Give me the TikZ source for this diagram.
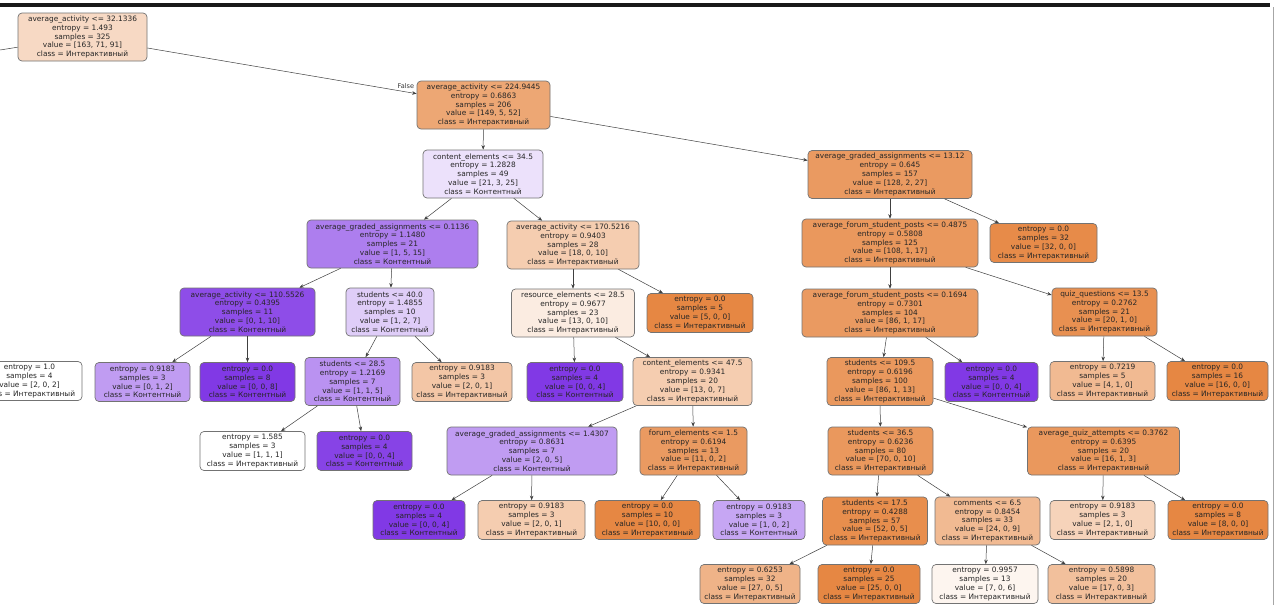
\documentclass[tikz,border=0pt]{standalone}
\usepackage{fontspec}
\usetikzlibrary{arrows.meta}
\newfontfamily\tnfont{DejaVu Sans}
\definecolor{O}{HTML}{E58139}
\definecolor{P}{HTML}{8139E5}
\tikzset{
  tn/.style={draw=black!55, line width=0.7pt, rounded corners=4pt, align=center,
    inner sep=1pt, text=black!85, font=\tnfont\fontsize{7.4}{8.8}\selectfont},
  in5/.style={tn, minimum height=48pt},
  lf/.style={tn, minimum height=39pt},
  ed/.style={draw=black!75, line width=0.5pt, -{Stealth[length=4.5pt,width=3.5pt]}},
  lab/.style={font=\tnfont\fontsize{6.5}{7}\selectfont, text=black!80, inner sep=0pt}
}
\begin{document}
\begin{tikzpicture}[x=1pt,y=-1pt]
\useasboundingbox (0,0) rectangle (1282,605);
\fill[white] (0,0) rectangle (1282,605);
\fill[black!90] (0,3) rectangle (1270,7);
\draw[black!35, line width=0.8pt] (1273,7) -- (1273,605);

% level 0-2
\node[in5, fill=O!30!white, minimum width=129pt] (r) at (82.5,37) {average\_activity <= 32.1336\\entropy = 1.493\\samples = 325\\value = [163, 71, 91]\\class = Интерактивный};
\node[in5, fill=O!70!white, minimum width=133pt] (n1) at (483.5,105) {average\_activity <= 224.9445\\entropy = 0.6863\\samples = 206\\value = [149, 5, 52]\\class = Интерактивный};
\node[in5, fill=P!15!white, minimum width=120pt] (n2) at (483,174) {content\_elements <= 34.5\\entropy = 1.2828\\samples = 49\\value = [21, 3, 25]\\class = Контентный};
\node[in5, fill=O!80!white, minimum width=164pt] (n3) at (890,174.5) {average\_graded\_assignments <= 13.12\\entropy = 0.645\\samples = 157\\value = [128, 2, 27]\\class = Интерактивный};

% level 3
\node[in5, fill=P!65!white, minimum width=171pt] (n4) at (392.5,244) {average\_graded\_assignments <= 0.1136\\entropy = 1.1480\\samples = 21\\value = [1, 5, 15]\\class = Контентный};
\node[in5, fill=O!40!white, minimum width=132pt] (n5) at (573,245) {average\_activity <= 170.5216\\entropy = 0.9403\\samples = 28\\value = [18, 0, 10]\\class = Интерактивный};
\node[in5, fill=O!82!white, minimum width=176pt] (n6) at (890,243) {average\_forum\_student\_posts <= 0.4875\\entropy = 0.5808\\samples = 125\\value = [108, 1, 17]\\class = Интерактивный};
\node[lf, fill=O!92!white, minimum width=107pt] (n7) at (1043.5,243) {entropy = 0.0\\samples = 32\\value = [32, 0, 0]\\class = Интерактивный};

% level 4
\node[in5, fill=P!90!white, minimum width=135pt] (n8) at (247.5,312) {average\_activity <= 110.5526\\entropy = 0.4395\\samples = 11\\value = [0, 1, 10]\\class = Контентный};
\node[in5, fill=P!25!white, minimum width=88pt] (n9) at (390,312) {students <= 40.0\\entropy = 1.4855\\samples = 10\\value = [1, 2, 7]\\class = Контентный};
\node[in5, fill=O!15!white, minimum width=123pt] (n12) at (573,313) {resource\_elements <= 28.5\\entropy = 0.9677\\samples = 23\\value = [13, 0, 10]\\class = Интерактивный};
\node[lf, fill=O!95!white, minimum width=106pt] (n13) at (700,313) {entropy = 0.0\\samples = 5\\value = [5, 0, 0]\\class = Интерактивный};
\node[in5, fill=O!80!white, minimum width=176pt] (n10) at (890,313) {average\_forum\_student\_posts <= 0.1694\\entropy = 0.7301\\samples = 104\\value = [86, 1, 17]\\class = Интерактивный};
\node[in5, fill=O!88!white, minimum width=105pt] (n11) at (1104.5,312) {quiz\_questions <= 13.5\\entropy = 0.2762\\samples = 21\\value = [20, 1, 0]\\class = Интерактивный};

% level 5
\node[lf, fill=white, minimum width=105pt] (fl) at (29.5,381) {entropy = 1.0\\samples = 4\\value = [2, 0, 2]\\class = Интерактивный};
\node[lf, fill=P!50!white, minimum width=95pt] (a1) at (142.5,382) {entropy = 0.9183\\samples = 3\\value = [0, 1, 2]\\class = Контентный};
\node[lf, fill=P!100!white, minimum width=95pt] (a2) at (247.5,382) {entropy = 0.0\\samples = 8\\value = [0, 0, 8]\\class = Контентный};
\node[in5, fill=P!55!white, minimum width=95pt] (n14) at (352.5,381.5) {students <= 28.5\\entropy = 1.2169\\samples = 7\\value = [1, 1, 5]\\class = Контентный};
\node[lf, fill=O!45!white, minimum width=100pt] (n15) at (462,382) {entropy = 0.9183\\samples = 3\\value = [2, 0, 1]\\class = Интерактивный};
\node[lf, fill=P!100!white, minimum width=96pt] (n16) at (575,382) {entropy = 0.0\\samples = 4\\value = [0, 0, 4]\\class = Контентный};
\node[in5, fill=O!40!white, minimum width=119pt] (n17) at (692.5,381.5) {content\_elements <= 47.5\\entropy = 0.9341\\samples = 20\\value = [13, 0, 7]\\class = Интерактивный};
\node[in5, fill=O!82!white, minimum width=106pt] (n20) at (880,381.5) {students <= 109.5\\entropy = 0.6196\\samples = 100\\value = [86, 1, 13]\\class = Интерактивный};
\node[lf, fill=P!100!white, minimum width=93pt] (n21) at (991.5,382) {entropy = 0.0\\samples = 4\\value = [0, 0, 4]\\class = Контентный};
\node[lf, fill=O!55!white, minimum width=105pt] (b1) at (1102.5,381) {entropy = 0.7219\\samples = 5\\value = [4, 1, 0]\\class = Интерактивный};
\node[lf, fill=O!95!white, minimum width=101pt] (b2) at (1217.5,381) {entropy = 0.0\\samples = 16\\value = [16, 0, 0]\\class = Интерактивный};

% level 6
\node[lf, fill=white, minimum width=105pt] (c1) at (252.5,451) {entropy = 1.585\\samples = 3\\value = [1, 1, 1]\\class = Интерактивный};
\node[lf, fill=P!95!white, minimum width=95pt] (c2) at (364.5,451) {entropy = 0.0\\samples = 4\\value = [0, 0, 4]\\class = Контентный};
\node[in5, fill=P!50!white, minimum width=170pt] (n18) at (532,451) {average\_graded\_assignments <= 1.4307\\entropy = 0.8631\\samples = 7\\value = [2, 0, 5]\\class = Контентный};
\node[in5, fill=O!80!white, minimum width=107pt] (n19) at (693.5,451) {forum\_elements <= 1.5\\entropy = 0.6194\\samples = 13\\value = [11, 0, 2]\\class = Интерактивный};
\node[in5, fill=O!82!white, minimum width=105pt] (n22) at (880.5,451) {students <= 36.5\\entropy = 0.6236\\samples = 80\\value = [70, 0, 10]\\class = Интерактивный};
\node[in5, fill=O!82!white, minimum width=152pt] (n23) at (1103.5,451) {average\_quiz\_attempts <= 0.3762\\entropy = 0.6395\\samples = 20\\value = [16, 1, 3]\\class = Интерактивный};

% level 7
\node[lf, fill=P!100!white, minimum width=92pt] (d1) at (419,520) {entropy = 0.0\\samples = 4\\value = [0, 0, 4]\\class = Контентный};
\node[lf, fill=O!40!white, minimum width=107pt] (d2) at (531.5,520) {entropy = 0.9183\\samples = 3\\value = [2, 0, 1]\\class = Интерактивный};
\node[lf, fill=O!95!white, minimum width=105pt] (d3) at (647.5,520) {entropy = 0.0\\samples = 10\\value = [10, 0, 0]\\class = Интерактивный};
\node[lf, fill=P!45!white, minimum width=92pt] (d4) at (759,520) {entropy = 0.9183\\samples = 3\\value = [1, 0, 2]\\class = Контентный};
\node[in5, fill=O!90!white, minimum width=105pt] (n24) at (875,521) {students <= 17.5\\entropy = 0.4288\\samples = 57\\value = [52, 0, 5]\\class = Интерактивный};
\node[in5, fill=O!55!white, minimum width=105pt] (n25) at (987.5,521) {comments <= 6.5\\entropy = 0.8454\\samples = 33\\value = [24, 0, 9]\\class = Интерактивный};
\node[lf, fill=O!35!white, minimum width=105pt] (e1) at (1102.5,520) {entropy = 0.9183\\samples = 3\\value = [2, 1, 0]\\class = Интерактивный};
\node[lf, fill=O!95!white, minimum width=100pt] (e2) at (1218,520) {entropy = 0.0\\samples = 8\\value = [8, 0, 0]\\class = Интерактивный};

% level 8
\node[lf, fill=O!60!white, minimum width=100pt] (f1) at (750,584) {entropy = 0.6253\\samples = 32\\value = [27, 0, 5]\\class = Интерактивный};
\node[lf, fill=O!95!white, minimum width=102pt] (f2) at (869,584) {entropy = 0.0\\samples = 25\\value = [25, 0, 0]\\class = Интерактивный};
\node[lf, fill=O!8!white, minimum width=106pt] (f3) at (985,584) {entropy = 0.9957\\samples = 13\\value = [7, 0, 6]\\class = Интерактивный};
\node[lf, fill=O!50!white, minimum width=107pt] (f4) at (1101.5,584) {entropy = 0.5898\\samples = 20\\value = [17, 0, 3]\\class = Интерактивный};

% edges
\coordinate (lft) at (0,50);
\draw[draw=black!75, line width=0.5pt] (r) -- (lft);
\draw[ed] (r) -- (n1) node[lab, pos=0.96, above=3pt] {False};
\draw[ed] (n1) -- (n2);
\draw[ed] (n1) -- (n3);
\draw[ed] (n2) -- (n4);
\draw[ed] (n2) -- (n5);
\draw[ed] (n3) -- (n6);
\draw[ed] (n3) -- (n7);
\draw[ed] (n4) -- (n8);
\draw[ed] (n4) -- (n9);
\draw[ed] (n5) -- (n12);
\draw[ed] (n5) -- (n13);
\draw[ed] (n6) -- (n10);
\draw[ed] (n6) -- (n11);
\draw[ed] (n8) -- (a1);
\draw[ed] (n8) -- (a2);
\draw[ed] (n9) -- (n14);
\draw[ed] (n9) -- (n15);
\draw[ed] (n12) -- (n16);
\draw[ed] (n12) -- (n17);
\draw[ed] (n10) -- (n20);
\draw[ed] (n10) -- (n21);
\draw[ed] (n11) -- (b1);
\draw[ed] (n11) -- (b2);
\draw[ed] (n14) -- (c1);
\draw[ed] (n14) -- (c2);
\draw[ed] (n17) -- (n18);
\draw[ed] (n17) -- (n19);
\draw[ed] (n20) -- (n22);
\draw[ed] (n20) -- (n23);
\draw[ed] (n18) -- (d1);
\draw[ed] (n18) -- (d2);
\draw[ed] (n19) -- (d3);
\draw[ed] (n19) -- (d4);
\draw[ed] (n22) -- (n24);
\draw[ed] (n22) -- (n25);
\draw[ed] (n23) -- (e1);
\draw[ed] (n23) -- (e2);
\draw[ed] (n24) -- (f1);
\draw[ed] (n24) -- (f2);
\draw[ed] (n25) -- (f3);
\draw[ed] (n25) -- (f4);
\end{tikzpicture}
\end{document}
